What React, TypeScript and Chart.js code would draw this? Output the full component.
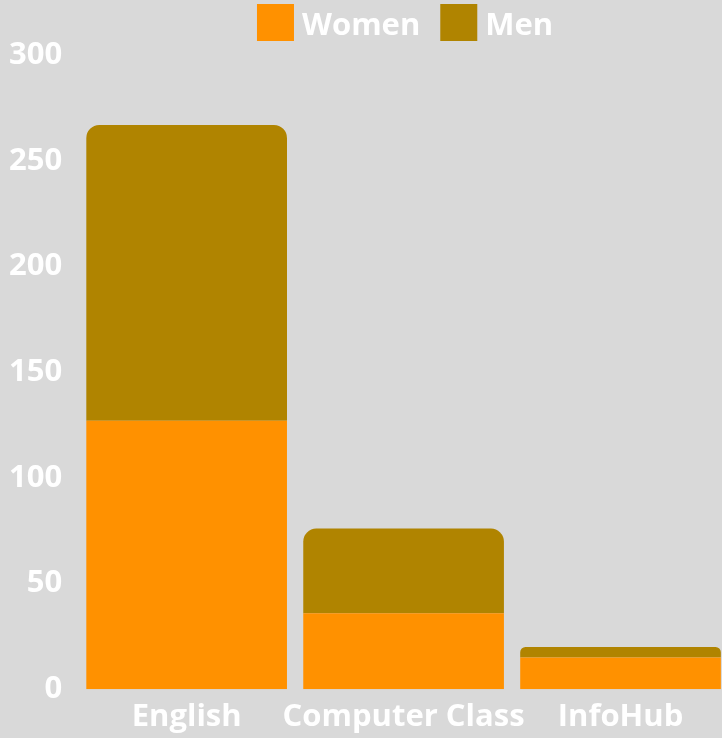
import React, { useEffect, useRef } from "react";
import { Chart, registerables } from "chart.js";

Chart.register(...registerables);

const categories = ["English", "Computer Class", "InfoHub"];
const women = [127, 36, 15];
const men = [140, 40, 5];
const yTicks = [0, 50, 100, 150, 200, 250, 300];

const seriesLabels = ["Women", "Men"];
const seriesColors = ["#ff9100", "#b08400"];

const FONT_FAMILY = "'Open Sans', sans-serif";
const FONT_SIZE = 31;

const legendPlugin = {
  id: "topLegend",
  afterDraw(chart: any) {
    const ctx = chart.ctx;
    const area = chart.chartArea;
    ctx.save();
    ctx.font = `bold ${FONT_SIZE}px ${FONT_FAMILY}`;
    const box = 37;
    const gap = 8;
    const spacing = 20;
    const items = chart.data.datasets.map((ds: any) => ({
      text: ds.label,
      color: ds.backgroundColor,
      w: ctx.measureText(ds.label).width,
    }));
    const total =
      items.reduce((s: number, it: any) => s + box + gap + it.w, 0) +
      spacing * (items.length - 1);
    let x = (area.left + area.right) / 2 + 1.5 - total / 2;
    const top = 4;
    items.forEach((it: any) => {
      ctx.fillStyle = it.color;
      ctx.fillRect(x, top, box, box);
      ctx.fillStyle = "#ffffff";
      ctx.textAlign = "left";
      ctx.textBaseline = "alphabetic";
      ctx.fillText(it.text, x + box + gap, top + 30.5);
      x += box + gap + it.w + spacing;
    });
    ctx.restore();
  },
};

export default function App() {
  const canvasRef = useRef<HTMLCanvasElement | null>(null);

  useEffect(() => {
    if (!canvasRef.current) return;
    const chart = new Chart(canvasRef.current, {
      type: "bar",
      data: {
        labels: categories,
        datasets: [
          {
            label: seriesLabels[0],
            data: women,
            backgroundColor: seriesColors[0],
            borderRadius: 13,
            borderSkipped: "start",
            barPercentage: 0.925,
            categoryPercentage: 1,
          },
          {
            label: seriesLabels[1],
            data: men,
            backgroundColor: seriesColors[1],
            borderRadius: 13,
            borderSkipped: "start",
            barPercentage: 0.925,
            categoryPercentage: 1,
          },
        ],
      },
      options: {
        responsive: false,
        animation: false,
        devicePixelRatio: 1,
        layout: { padding: { top: 55.3, bottom: 0, left: -1, right: 0 } },
        plugins: {
          legend: { display: false },
          tooltip: { enabled: false },
        },
        scales: {
          x: {
            stacked: true,
            grid: { display: false, drawTicks: false },
            border: { display: false },
            ticks: {
              color: "#ffffff",
              font: { family: FONT_FAMILY, size: FONT_SIZE, weight: "bold" },
              padding: 9.3,
              maxRotation: 0,
              minRotation: 0,
              autoSkip: false,
            },
          },
          y: {
            stacked: true,
            min: yTicks[0],
            max: yTicks[yTicks.length - 1],
            afterBuildTicks: (scale: any) => {
              scale.ticks = yTicks.map((v) => ({ value: v }));
            },
            grid: { display: false, drawTicks: false },
            border: { display: false },
            ticks: {
              color: "#ffffff",
              font: { family: FONT_FAMILY, size: FONT_SIZE, weight: "bold" },
              padding: 16,
            },
          },
        },
      },
      plugins: [legendPlugin],
    });
    return () => chart.destroy();
  }, []);

  return (
    <div
      style={{
        position: "absolute",
        left: 0,
        top: 0,
        width: 722,
        height: 738,
        overflow: "hidden",
        background: "#d9d9d9",
      }}
    >
      <canvas
        ref={canvasRef}
        width={735}
        height={745}
        style={{
          display: "block",
          position: "absolute",
          left: -6,
          top: 0,
          width: 735,
          height: 745,
        }}
      />
    </div>
  );
}
